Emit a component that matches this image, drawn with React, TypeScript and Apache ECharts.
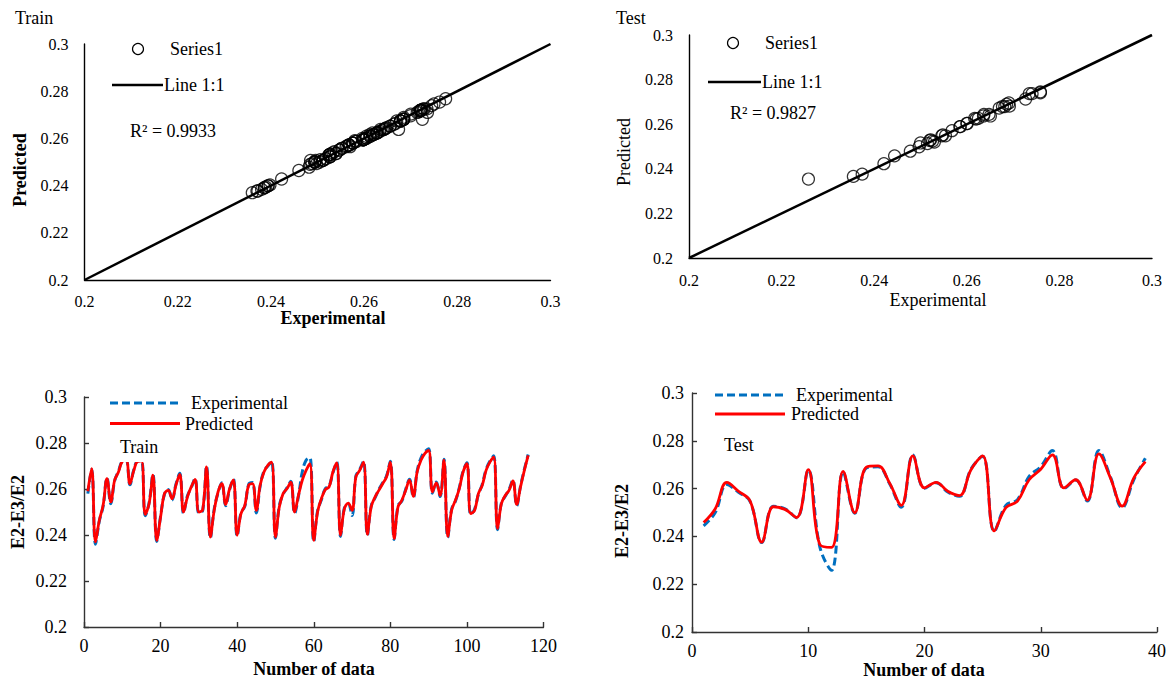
import React, { useEffect, useRef } from "react";
import * as echarts from "echarts";

// ---------- data ----------
const trainPredicted = [
  0.259, 0.2689, 0.237, 0.2464, 0.253, 0.2645, 0.2544, 0.2638, 0.2674, 0.272,
  0.2725, 0.2623, 0.268, 0.272, 0.2722, 0.249, 0.2536, 0.266, 0.2377, 0.2478,
  0.258, 0.2594, 0.2558, 0.2616, 0.2664, 0.25, 0.2565, 0.2609, 0.2642, 0.25,
  0.251, 0.2696, 0.2391, 0.2507, 0.2587, 0.2623, 0.2533, 0.26, 0.264, 0.2399,
  0.2493, 0.2529, 0.2616, 0.2623, 0.2507, 0.2616, 0.2674, 0.2703, 0.2717, 0.2391,
  0.2522, 0.258, 0.2601, 0.263, 0.25, 0.2572, 0.2638, 0.2681, 0.271, 0.2377,
  0.25, 0.2558, 0.2597, 0.2609, 0.2674, 0.2713, 0.2399, 0.2514, 0.2539, 0.2507,
  0.2652, 0.2681, 0.2717, 0.2403, 0.2522, 0.2565, 0.2594, 0.2623, 0.2652, 0.2717,
  0.2384, 0.2522, 0.2551, 0.2594, 0.2638, 0.2568, 0.2674, 0.2725, 0.2754, 0.2768,
  0.2587, 0.2626, 0.2572, 0.2725, 0.2394, 0.2507, 0.2551, 0.2601, 0.2674, 0.271,
  0.2493, 0.2507, 0.258, 0.2616, 0.2681, 0.2717, 0.2739, 0.2428, 0.2536, 0.2572,
  0.2594, 0.2635, 0.2533, 0.2609, 0.2681, 0.2746,
];
const trainExperimental = [
  0.258, 0.2685, 0.236, 0.246, 0.2525, 0.2648, 0.2536, 0.2635, 0.2678, 0.2722,
  0.2727, 0.2618, 0.2684, 0.2722, 0.2724, 0.2484, 0.254, 0.2664, 0.2372, 0.2482,
  0.2576, 0.2598, 0.2552, 0.262, 0.2668, 0.2494, 0.257, 0.2605, 0.2646, 0.2495,
  0.2506, 0.27, 0.2386, 0.2512, 0.2583, 0.2627, 0.2527, 0.2596, 0.2644, 0.2394,
  0.2498, 0.2524, 0.262, 0.2628, 0.2496, 0.2612, 0.2678, 0.27, 0.272, 0.2386,
  0.2527, 0.2576, 0.2605, 0.2634, 0.2494, 0.2568, 0.2674, 0.2725, 0.2736, 0.237,
  0.2505, 0.2553, 0.2601, 0.2613, 0.267, 0.2717, 0.2394, 0.2518, 0.2533, 0.2485,
  0.2656, 0.2685, 0.2721, 0.2398, 0.2526, 0.2561, 0.2598, 0.2627, 0.2656, 0.2721,
  0.238, 0.2527, 0.2547, 0.2598, 0.2642, 0.2563, 0.2678, 0.2735, 0.2762, 0.2775,
  0.2582, 0.263, 0.2567, 0.2729, 0.2389, 0.2512, 0.2547, 0.2605, 0.2678, 0.2714,
  0.2488, 0.2512, 0.2576, 0.262, 0.2685, 0.2721, 0.2745, 0.2423, 0.254, 0.2568,
  0.2598, 0.2639, 0.2527, 0.2613, 0.2685, 0.275,
];
const testPredicted = [
  0.2458, 0.2516, 0.2626, 0.2589, 0.2548, 0.2376, 0.2524, 0.2513, 0.2479, 0.2679,
  0.2366, 0.2354, 0.2672, 0.2499, 0.269, 0.2695, 0.2623, 0.253, 0.2737, 0.2603,
  0.2626, 0.2589, 0.2571, 0.2679, 0.2737, 0.2423, 0.252, 0.2548, 0.2637, 0.2681,
  0.2741, 0.2603, 0.2637, 0.2552, 0.2745, 0.2644, 0.2527, 0.2644, 0.2713,
];
const testExperimental = [
  0.2444, 0.25, 0.2617, 0.2585, 0.2546, 0.2374, 0.2526, 0.2515, 0.2478, 0.2677,
  0.2355, 0.2258, 0.267, 0.2497, 0.2686, 0.2691, 0.262, 0.2522, 0.2741, 0.2601,
  0.2625, 0.2586, 0.2568, 0.2682, 0.2735, 0.2421, 0.253, 0.2554, 0.2651, 0.2692,
  0.2759, 0.26, 0.2636, 0.2548, 0.2759, 0.2648, 0.252, 0.2637, 0.2727,
];
const oneToOneRange = [0.2, 0.3];
const valueAxisRange = { min: 0.2, max: 0.3, interval: 0.02 };
const trainCountAxis = { min: 0, max: 120, interval: 20 };
const testCountAxis = { min: 0, max: 40, interval: 10 };
const trainR2Label = "R² = 0.9933";
const testR2Label = "R² = 0.9827";
const legendScatter = "Series1";
const legendLine = "Line 1:1";
const legendExp = "Experimental";
const legendPred = "Predicted";

// ---------- styling ----------
const FONT = "Liberation Serif";
const BLUE = "#0070C0";
const RED = "#FF0000";

function txt(
  text: string,
  x: number,
  y: number,
  size: number,
  opts: { bold?: boolean; align?: string; rotate?: boolean } = {}
) {
  const align = opts.align || "left";
  return {
    type: "text",
    x,
    y,
    rotation: opts.rotate ? Math.PI / 2 : 0,
    silent: true,
    style: {
      text,
      x: 0,
      y: 0,
      fontFamily: FONT,
      fontSize: size,
      fontWeight: opts.bold ? "bold" : "normal",
      fill: "#000",
      align,
      textAlign: align,
      verticalAlign: "middle",
      textVerticalAlign: "middle",
    },
  };
}

function valueAxis(gridIndex: number, fontSize: number, margin: number, color: string, ticks: boolean) {
  return {
    gridIndex,
    type: "value",
    ...valueAxisRange,
    axisLine: { show: true, onZero: false, lineStyle: { color, width: 1.4 } },
    axisTick: { show: ticks, inside: true, length: 5, lineStyle: { color, width: 1.4 } },
    splitLine: { show: false },
    axisLabel: { color: "#000", fontFamily: FONT, fontSize, margin },
  };
}

function countAxis(gridIndex: number, range: any, color: string) {
  return {
    gridIndex,
    type: "value",
    ...range,
    axisLine: { show: true, onZero: false, lineStyle: { color, width: 1.4 } },
    axisTick: { show: true, inside: true, length: 5, lineStyle: { color, width: 1.4 } },
    splitLine: { show: false },
    axisLabel: { color: "#000", fontFamily: FONT, fontSize: 18, margin: 10 },
  };
}

export default function App() {
  const ref = useRef<HTMLDivElement>(null);

  useEffect(() => {
    if (!ref.current) return;
    const chart = echarts.init(ref.current, undefined, { renderer: "svg" });

    const trainPairs = trainExperimental.map((e, i) => [e, trainPredicted[i]]);
    const testPairs = testExperimental.map((e, i) => [e, testPredicted[i]]);
    const idLine = oneToOneRange.map((v) => [v, v]);
    const idx = (arr: number[]) => arr.map((v, i) => [i + 1, v]);

    const scatterStyle = {
      type: "scatter",
      symbol: "circle",
      symbolSize: 12,
      itemStyle: { color: "rgba(0,0,0,0)", borderColor: "#000", borderWidth: 1.2 },
      silent: true,
      z: 3,
    };
    const idLineStyle = {
      type: "line",
      showSymbol: false,
      symbol: "none",
      lineStyle: { color: "#000", width: 2.5 },
      silent: true,
      z: 2,
    };
    const expLine = {
      type: "line",
      symbol: "none",
      smooth: 0.4,
      lineStyle: { color: BLUE, width: 3, type: [8, 4] },
      silent: true,
      z: 2,
    };
    const predLine = {
      type: "line",
      symbol: "none",
      smooth: 0.4,
      lineStyle: { color: RED, width: 2.8 },
      silent: true,
      z: 3,
    };

    const option: any = {
      animation: false,
      backgroundColor: "#fff",
      textStyle: { fontFamily: FONT },
      grid: [
        { left: 84.5, top: 44, width: 466, height: 236 },
        { left: 689, top: 35, width: 463, height: 223 },
        { left: 84, top: 397, width: 459.5, height: 230 },
        { left: 692, top: 393, width: 465, height: 239 },
      ],
      xAxis: [
        valueAxis(0, 16, 13, "#000", false),
        valueAxis(1, 16, 14, "#000", false),
        countAxis(2, trainCountAxis, "#333"),
        countAxis(3, testCountAxis, "#333"),
      ],
      yAxis: [
        valueAxis(0, 16, 16, "#000", false),
        valueAxis(1, 16, 16, "#000", false),
        valueAxis(2, 18, 17, "#333", true),
        valueAxis(3, 18, 8, "#333", true),
      ],
      series: [
        { ...idLineStyle, name: legendLine, xAxisIndex: 0, yAxisIndex: 0, data: idLine },
        { ...scatterStyle, name: legendScatter, xAxisIndex: 0, yAxisIndex: 0, data: trainPairs },
        { ...idLineStyle, name: legendLine, xAxisIndex: 1, yAxisIndex: 1, data: idLine },
        { ...scatterStyle, name: legendScatter, xAxisIndex: 1, yAxisIndex: 1, data: testPairs },
        { ...expLine, name: legendExp, xAxisIndex: 2, yAxisIndex: 2, data: idx(trainExperimental) },
        { ...predLine, name: legendPred, xAxisIndex: 2, yAxisIndex: 2, data: idx(trainPredicted) },
        { ...expLine, name: legendExp, xAxisIndex: 3, yAxisIndex: 3, data: idx(testExperimental) },
        { ...predLine, name: legendPred, xAxisIndex: 3, yAxisIndex: 3, data: idx(testPredicted) },
      ],
      graphic: [
        // top-left (train scatter)
        txt("Train", 15, 18, 18),
        { type: "circle", silent: true, shape: { cx: 138, cy: 49, r: 5.5 }, style: { fill: "none", stroke: "#000", lineWidth: 1.2 } },
        txt(legendScatter, 170, 49, 18),
        { type: "line", silent: true, shape: { x1: 112, y1: 85, x2: 163, y2: 85 }, style: { stroke: "#000", lineWidth: 2.5 } },
        txt(legendLine, 164, 85, 18),
        txt(trainR2Label, 130, 131, 18),
        txt("Experimental", 333, 318, 18, { bold: true, align: "center" }),
        txt("Predicted", 20, 170, 18, { bold: true, align: "center", rotate: true }),
        // top-right (test scatter)
        txt("Test", 616, 18, 18),
        { type: "circle", silent: true, shape: { cx: 733, cy: 43, r: 5.5 }, style: { fill: "none", stroke: "#000", lineWidth: 1.2 } },
        txt(legendScatter, 765, 43, 18),
        { type: "line", silent: true, shape: { x1: 708, y1: 82, x2: 761, y2: 82 }, style: { stroke: "#000", lineWidth: 2.5 } },
        txt(legendLine, 762, 82, 18),
        txt(testR2Label, 730, 113, 18),
        txt("Experimental", 938, 300, 18, { align: "center" }),
        txt("Predicted", 624, 152, 18, { align: "center", rotate: true }),
        // bottom-left (train series)
        { type: "line", silent: true, shape: { x1: 110, y1: 403, x2: 180, y2: 403 }, style: { stroke: BLUE, lineWidth: 3, lineDash: [8, 4] } },
        txt(legendExp, 191, 403, 18),
        { type: "line", silent: true, shape: { x1: 110, y1: 423.5, x2: 180, y2: 423.5 }, style: { stroke: RED, lineWidth: 3 } },
        txt(legendPred, 185, 423.5, 18),
        { type: "rect", silent: true, z: 10, shape: { x: 115, y: 434, width: 48, height: 28 }, style: { fill: "#fff" } },
        { ...txt("Train", 120, 447, 18), z: 11 },
        txt("Number of data", 314, 669, 18, { bold: true, align: "center" }),
        txt("E2-E3/E2", 18, 512, 18, { bold: true, align: "center", rotate: true }),
        // bottom-right (test series)
        { type: "line", silent: true, shape: { x1: 715, y1: 395, x2: 785, y2: 395 }, style: { stroke: BLUE, lineWidth: 3, lineDash: [8, 4] } },
        txt(legendExp, 796, 395, 18),
        { type: "line", silent: true, shape: { x1: 715, y1: 414, x2: 785, y2: 414 }, style: { stroke: RED, lineWidth: 3 } },
        txt(legendPred, 791, 414, 18),
        txt("Test", 724, 445, 18),
        txt("Number of data", 924, 670, 18, { bold: true, align: "center" }),
        txt("E2-E3/E2", 622, 521, 18, { bold: true, align: "center", rotate: true }),
      ],
    };

    chart.setOption(option);
    return () => chart.dispose();
  }, []);

  return (
    <div
      ref={ref}
      style={{ position: "fixed", left: 0, top: 0, width: 1172, height: 679, background: "#fff" }}
    />
  );
}
